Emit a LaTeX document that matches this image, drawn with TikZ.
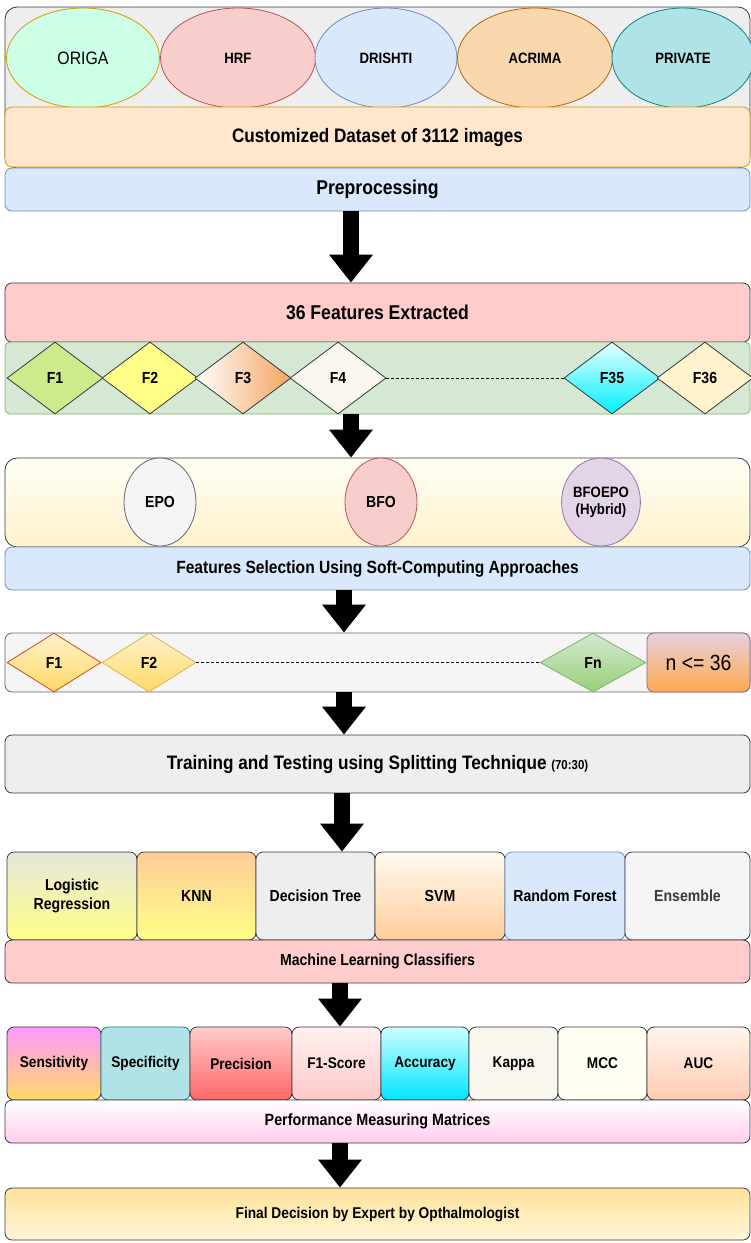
\documentclass[tikz,border=0pt]{standalone}
\usepackage{fontspec}
\setmainfont[FakeStretch=0.88]{Liberation Sans}
\usetikzlibrary{arrows.meta,shapes.geometric,calc}
\definecolor{dk}{HTML}{36393D}
\definecolor{cgray}{HTML}{EEEEEE}
\definecolor{mint}{HTML}{CCFFE6}
\definecolor{org}{HTML}{D79B00}
\definecolor{pinkf}{HTML}{F8CECC}
\definecolor{redb}{HTML}{B85450}
\definecolor{bluef}{HTML}{DAE8FC}
\definecolor{blueb}{HTML}{6C8EBF}
\definecolor{orf}{HTML}{FAD7AC}
\definecolor{orb}{HTML}{B46504}
\definecolor{tealf}{HTML}{B0E3E6}
\definecolor{tealb}{HTML}{0E8088}
\definecolor{peach}{HTML}{FFE6CC}
\definecolor{rosef}{HTML}{FFCCCC}
\definecolor{greenf}{HTML}{D5E8D4}
\definecolor{greenb}{HTML}{82B366}
\definecolor{lime}{HTML}{CDEB8B}
\definecolor{yel}{HTML}{FFFF88}
\definecolor{orange2}{HTML}{F4A460}
\definecolor{cream}{HTML}{F9F7ED}
\definecolor{cyanb}{HTML}{00F0FF}
\definecolor{lcyan}{HTML}{E6FFFF}
\definecolor{lyel}{HTML}{FFF2CC}
\definecolor{gold}{HTML}{FFD966}
\definecolor{goldb}{HTML}{D6B656}
\definecolor{redor}{HTML}{D0461E}
\definecolor{lgreen}{HTML}{97D077}
\definecolor{lpurp}{HTML}{E6D0DE}
\definecolor{purpb}{HTML}{996185}
\definecolor{nor}{HTML}{FFA94D}
\definecolor{pgray}{HTML}{F5F5F5}
\definecolor{g66}{HTML}{666666}
\definecolor{purf}{HTML}{E1D5E7}
\definecolor{purb}{HTML}{9673A6}
\definecolor{beige}{HTML}{E6E6DC}
\definecolor{knnt}{HTML}{FFCC99}
\definecolor{svmt}{HTML}{FFFAF0}
\definecolor{magt}{HTML}{FF99FF}
\definecolor{precb}{HTML}{FF6666}
\definecolor{f1t}{HTML}{FFF0F0}
\definecolor{f1b}{HTML}{FFC8C8}
\definecolor{acct}{HTML}{CCFFFF}
\definecolor{accb}{HTML}{00E5FF}
\definecolor{mccf}{HTML}{FFFFF2}
\definecolor{auct}{HTML}{FFF4EE}
\definecolor{aucb}{HTML}{FFCBB0}
\definecolor{perfb}{HTML}{FFCCEE}
\definecolor{selt}{HTML}{FFFFF6}
\definecolor{finalt}{HTML}{FFE29A}
\definecolor{finalb}{HTML}{FFF6D8}
\newcommand{\fsz}[1]{\fontsize{#1}{#1}\selectfont}
\begin{document}
\begin{tikzpicture}[x=1pt,y=-1pt,
  box/.style={draw=dk, rounded corners=7pt, inner sep=0pt, align=center, line width=0.8pt, font=\bfseries\fsz{16}},
  ell/.style={ellipse, draw, inner sep=0pt, line width=0.8pt, align=center, font=\bfseries\fsz{15}},
  dia/.style={diamond, draw=dk, inner sep=0pt, line width=0.8pt, font=\bfseries\fsz{16}},
  bigarrow/.style={line width=16pt, -{Triangle[width=42pt,length=28pt]}},
  dots/.style={dash pattern=on 3pt off 2pt, line width=1pt}]
\useasboundingbox (0,0) rectangle (751,1243);
\clip (0,0) rectangle (751,1243);
% ---------- datasets
\node[box, fill=cgray, rounded corners=12pt, minimum width=745pt, minimum height=161pt] (topc) at (377.5,87.5) {};
\node[ell, fill=mint, draw=org, minimum width=153pt, minimum height=100pt, font=\fsz{18}] (origa) at (83,58) {ORIGA};
\node[ell, fill=pinkf, draw=redb, minimum width=155pt, minimum height=100pt] (hrf) at (238,58) {HRF};
\node[ell, fill=bluef, draw=blueb, minimum width=142pt, minimum height=100pt] (drishti) at (386,58) {DRISHTI};
\node[ell, fill=orf, draw=orb, minimum width=155pt, minimum height=100pt] (acrima) at (535,58) {ACRIMA};
\node[ell, fill=tealf, draw=tealb, minimum width=142pt, minimum height=100pt] (private) at (683,58) {PRIVATE};
\node[box, fill=peach, draw=org, minimum width=745pt, minimum height=60pt, font=\bfseries\fsz{19.5}] (cust) at (377.5,137) {Customized Dataset of 3112 images};
\node[box, fill=bluef, draw=blueb, minimum width=745pt, minimum height=43pt, font=\bfseries\fsz{20}] (pre) at (377.5,189.5) {Preprocessing};
% ---------- features
\node[box, fill=rosef, minimum width=745pt, minimum height=59pt, font=\bfseries\fsz{20}] (feat) at (377.5,312.5) {36 Features Extracted};
\node[box, fill=greenf, draw=greenb, rounded corners=5pt, minimum width=745pt, minimum height=72pt] (grow) at (377.5,378) {};
\node[dia, fill=lime, minimum width=96pt, minimum height=72pt] (f1) at (55,378) {F1};
\node[dia, fill=yel, minimum width=96pt, minimum height=72pt] (f2) at (150,378) {F2};
\node[dia, left color=white, right color=orange2, minimum width=96pt, minimum height=72pt] (f3) at (243,378) {F3};
\node[dia, fill=cream, minimum width=96pt, minimum height=72pt] (f4) at (338,378) {F4};
\node[dia, top color=lcyan, bottom color=cyanb, minimum width=96pt, minimum height=72pt] (f35) at (612,378) {F35};
\node[dia, fill=lyel, minimum width=96pt, minimum height=72pt] (f36) at (705,378) {F36};
\draw[dots] (f4.east) -- (f35.west);
% ---------- selection
\node[box, top color=selt, bottom color=lyel, draw=dk, rounded corners=12pt, minimum width=745pt, minimum height=89pt] (sel) at (377.5,502.5) {};
\node[ell, fill=pgray, draw=g66, minimum width=72pt, minimum height=88pt, font=\bfseries\fsz{16}] (epo) at (160,502) {EPO};
\node[ell, fill=pinkf, draw=redb, minimum width=72pt, minimum height=88pt, font=\bfseries\fsz{16}] (bfo) at (381,502) {BFO};
\node[ell, fill=purf, draw=purb, minimum width=72pt, minimum height=88pt, font=\bfseries\fsz{15}] (bfoepo) at (601,502) {BFOEPO\\[2pt](Hybrid)};
\node[box, fill=bluef, draw=blueb, minimum width=745pt, minimum height=43pt, font=\bfseries\fsz{17.7}] (fsel) at (377.5,568.5) {Features Selection Using Soft-Computing Approaches};
% ---------- selected features
\node[box, fill=pgray, draw=g66, minimum width=745pt, minimum height=59pt] (nrow) at (377.5,662.5) {};
\node[dia, top color=lyel, bottom color=gold, draw=redor, minimum width=94pt, minimum height=59pt] (g1) at (54,662.5) {F1};
\node[dia, top color=lyel, bottom color=gold, draw=goldb, minimum width=94pt, minimum height=59pt] (g2) at (149,662.5) {F2};
\node[dia, top color=greenf, bottom color=lgreen, draw=greenb, minimum width=106pt, minimum height=59pt] (gn) at (593,662.5) {Fn};
\node[box, top color=lpurp, bottom color=nor, draw=purpb, minimum width=103pt, minimum height=59pt, font=\fsz{22}] (nbox) at (698.5,662.5) {n <= 36};
\draw[dots] (g2.east) -- (gn.west);
% ---------- training
\node[box, fill=cgray, minimum width=745pt, minimum height=58pt, font=\bfseries\fsz{19.5}] (train) at (377.5,764) {Training and Testing using Splitting Technique {\fsz{13}(70:30)}};
% ---------- classifiers
\node[box, top color=beige, bottom color=yel, minimum width=130pt, minimum height=88pt] (lr) at (72,896) {Logistic\\[3pt]Regression};
\node[box, top color=knnt, bottom color=yel, minimum width=119pt, minimum height=88pt] (knn) at (196.5,896) {KNN};
\node[box, fill=cgray, minimum width=119pt, minimum height=88pt] (dt) at (315.5,896) {Decision Tree};
\node[box, top color=svmt, bottom color=knnt, minimum width=130pt, minimum height=88pt] (svm) at (440,896) {SVM};
\node[box, fill=bluef, draw=blueb, minimum width=120pt, minimum height=88pt] (rf) at (565,896) {Random Forest};
\node[box, fill=pgray, text=dk, minimum width=125pt, minimum height=88pt] (ens) at (687.5,896) {Ensemble};
\node[box, fill=rosef, minimum width=745pt, minimum height=43pt, font=\bfseries\fsz{16}] (ml) at (377.5,961.5) {Machine Learning Classifiers};
% ---------- metrics
\node[box, top color=magt, bottom color=gold, minimum width=94pt, minimum height=73pt, font=\bfseries\fsz{15.5}] (sens) at (54,1063.5) {Sensitivity};
\node[box, fill=tealf, draw=tealb, minimum width=89pt, minimum height=73pt, font=\bfseries\fsz{15.5}] (spec) at (145.5,1063.5) {Specificity};
\node[box, top color=rosef, bottom color=precb, minimum width=102pt, minimum height=73pt, font=\bfseries\fsz{15.5}] (prec) at (241,1063.5) {Precision};
\node[box, top color=f1t, bottom color=f1b, minimum width=89pt, minimum height=73pt, font=\bfseries\fsz{15.5}] (f1s) at (336.5,1063.5) {F1-Score};
\node[box, top color=acct, bottom color=accb, minimum width=88pt, minimum height=73pt, font=\bfseries\fsz{15.5}] (acc) at (425,1063.5) {Accuracy};
\node[box, fill=cream, minimum width=89pt, minimum height=73pt, font=\bfseries\fsz{15.5}] (kap) at (513.5,1063.5) {Kappa};
\node[box, fill=mccf, minimum width=89pt, minimum height=73pt, font=\bfseries\fsz{15.5}] (mcc) at (602.5,1063.5) {MCC};
\node[box, top color=auct, bottom color=aucb, minimum width=103pt, minimum height=73pt, font=\bfseries\fsz{15.5}] (auc) at (698.5,1063.5) {AUC};
\node[box, top color=white, bottom color=perfb, minimum width=745pt, minimum height=43pt, font=\bfseries\fsz{16.3}] (perf) at (377.5,1121.5) {Performance Measuring Matrices};
\node[box, top color=finalt, bottom color=finalb, minimum width=745pt, minimum height=52pt, font=\bfseries\fsz{15.6}] (final) at (377.5,1214) {Final Decision by Expert by Opthalmologist};
% ---------- arrows
\coordinate (a1) at (351,0);
\coordinate (a3) at (344,0);
\coordinate (a5) at (342,0);
\coordinate (a6) at (340,0);
\draw[bigarrow] (pre.south -| a1) -- (feat.north -| a1);
\draw[bigarrow] (grow.south -| a1) -- (sel.north -| a1);
\draw[bigarrow] (fsel.south -| a3) -- (nrow.north -| a3);
\draw[bigarrow] (nrow.south -| a3) -- (train.north -| a3);
\draw[bigarrow] (train.south -| a5) -- (dt.north -| a5);
\draw[bigarrow] (ml.south -| a6) -- (f1s.north -| a6);
\draw[bigarrow] (perf.south -| a6) -- (final.north -| a6);
\end{tikzpicture}
\end{document}
